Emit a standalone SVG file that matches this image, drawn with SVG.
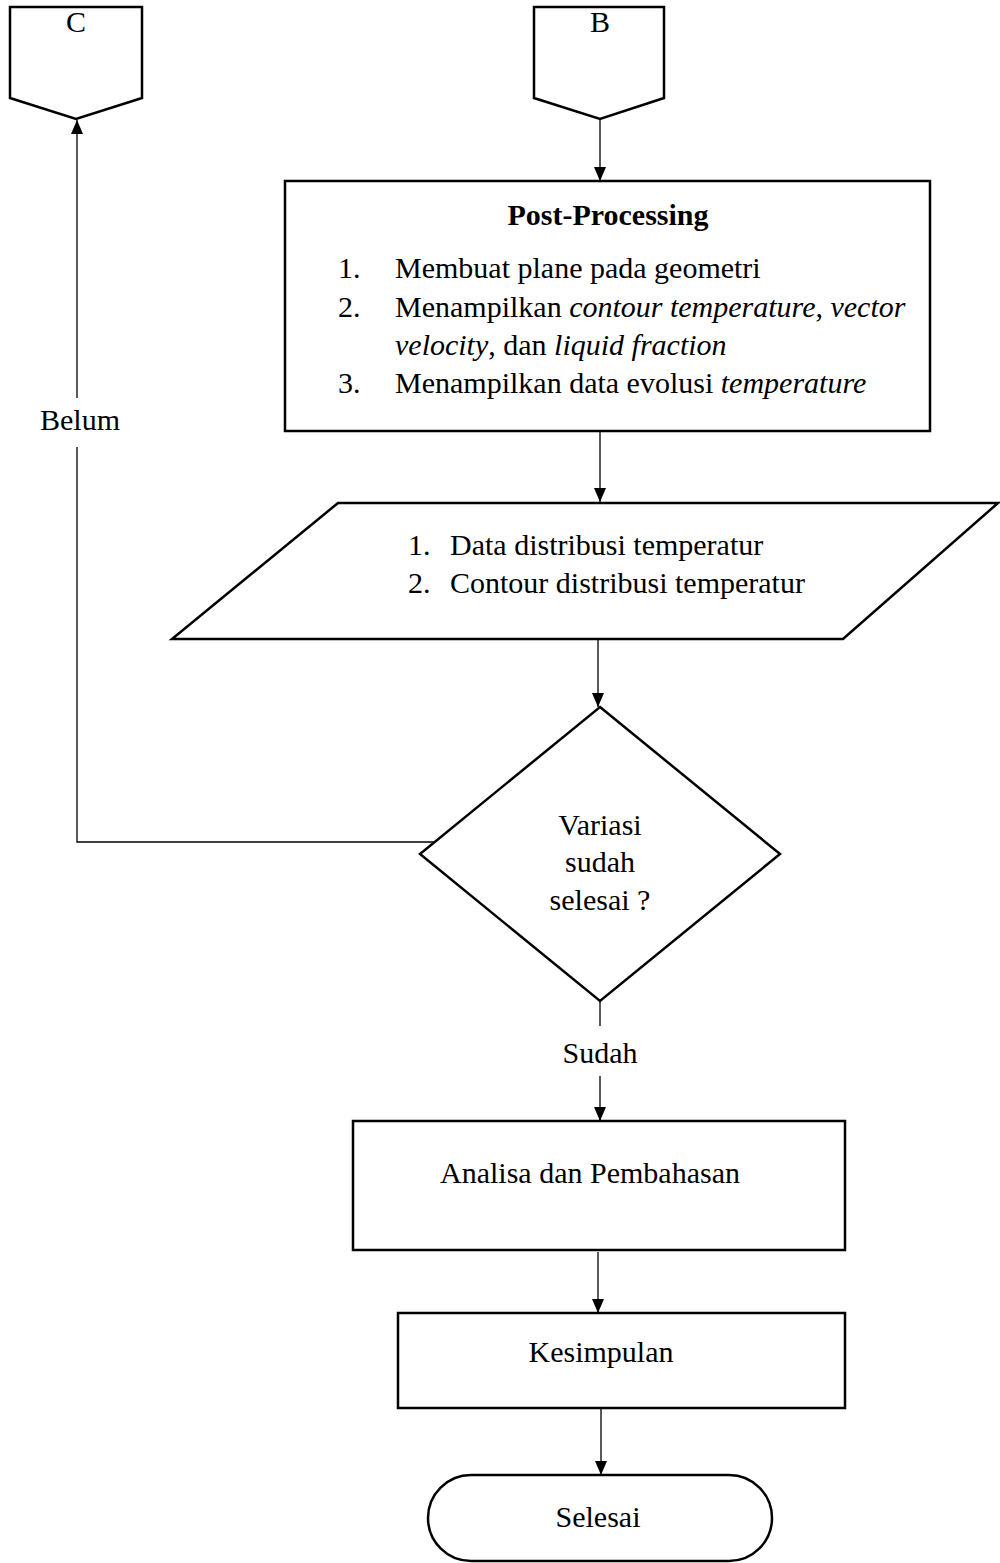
<svg xmlns="http://www.w3.org/2000/svg" width="1000" height="1563" viewBox="0 0 1000 1563">
<defs>
<marker id="ah" viewBox="0 0 14 12" refX="14" refY="6" markerWidth="14" markerHeight="12" markerUnits="userSpaceOnUse" orient="auto">
<path d="M0,0 L14,6 L0,12 Z" fill="#000"/>
</marker>
<style>
.shape{fill:#fff;stroke:#000;stroke-width:2.5;}
.conn{fill:none;stroke:#000;stroke-width:1.3;}
.arr{marker-end:url(#ah);}
text{font-family:"Liberation Serif","Times New Roman",serif;font-size:30px;fill:#000;}
.c{text-anchor:middle;}
.b{font-weight:bold;}
.i{font-style:italic;}
</style>
</defs>
<rect width="1000" height="1563" fill="#fff"/>

<g id="connectors">
<line class="conn arr" x1="77" y1="398" x2="77" y2="120"/>
<polyline class="conn" points="434,842 77,842 77,447"/>
<line class="conn arr" x1="600" y1="119" x2="600" y2="181"/>
<line class="conn arr" x1="600" y1="431" x2="600" y2="502"/>
<line class="conn arr" x1="598" y1="639" x2="598" y2="707"/>
<line class="conn" x1="600" y1="1001" x2="600" y2="1026"/>
<line class="conn arr" x1="600" y1="1076" x2="600" y2="1121"/>
<line class="conn arr" x1="598" y1="1252" x2="598" y2="1313"/>
<line class="conn arr" x1="601" y1="1408" x2="601" y2="1475"/>
<text x="80" y="430" class="c">Belum</text>
<text x="600" y="1063" class="c">Sudah</text>
</g>

<g id="node-c">
<polygon class="shape" points="10,7 142,7 142,98 76,119 10,98"/>
<text x="76" y="32" class="c">C</text>
</g>

<g id="node-b">
<polygon class="shape" points="534,7 664,7 664,98 600,119 534,98"/>
<text x="600" y="32" class="c">B</text>
</g>

<g id="node-post">
<rect class="shape" x="285" y="181" width="645" height="250"/>
<text x="608" y="225" class="c b">Post-Processing</text>
<text x="338" y="278">1.</text>
<text x="395" y="278">Membuat plane pada geometri</text>
<text x="338" y="317">2.</text>
<text x="395" y="317">Menampilkan <tspan class="i">contour temperature</tspan>, <tspan class="i">vector</tspan></text>
<text x="395" y="355"><tspan class="i">velocity</tspan>, dan <tspan class="i">liquid fraction</tspan></text>
<text x="338" y="393">3.</text>
<text x="395" y="393">Menampilkan data evolusi <tspan class="i">temperature</tspan></text>
</g>

<g id="node-output">
<polygon class="shape" points="338,503 998,503 843,639 172,639"/>
<text x="408" y="555">1.</text>
<text x="450" y="555">Data distribusi temperatur</text>
<text x="408" y="593">2.</text>
<text x="450" y="593">Contour distribusi temperatur</text>
</g>

<g id="node-decision">
<polygon class="shape" points="600,707 780,854 600,1001 420,854"/>
<text x="600" y="835" class="c">Variasi</text>
<text x="600" y="872" class="c">sudah</text>
<text x="600" y="910" class="c">selesai ?</text>
</g>

<g id="node-analisa">
<rect class="shape" x="353" y="1121" width="492" height="129"/>
<text x="590" y="1183" class="c">Analisa dan Pembahasan</text>
</g>

<g id="node-kesimpulan">
<rect class="shape" x="398" y="1313" width="447" height="95"/>
<text x="601" y="1362" class="c">Kesimpulan</text>
</g>

<g id="node-selesai">
<rect class="shape" x="428" y="1475" width="344" height="86" rx="43" ry="43"/>
<text x="598" y="1527" class="c">Selesai</text>
</g>
</svg>
